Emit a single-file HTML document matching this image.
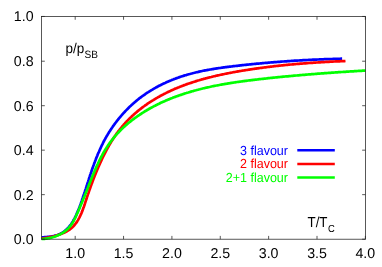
<!DOCTYPE html>
<html><head><meta charset="utf-8"><title>p/pSB</title>
<style>
html,body{margin:0;padding:0;background:#fff;}
svg{display:block;will-change:transform;}
text{text-rendering:geometricPrecision;font-family:"Liberation Sans",Arial,Helvetica,sans-serif;font-size:12.7px;fill:#000;}
.tk text{font-size:14.2px;}
</style></head><body>
<svg width="382" height="267" viewBox="0 0 382 267">

<g fill="none" stroke-width="2.7" stroke-linejoin="round">
<path stroke="#0000ff" d="M41.6,237.4 L42.6,237.3 L43.6,237.3 L44.6,237.2 L45.6,237.1 L46.6,237.0 L47.6,236.9 L48.6,236.8 L49.6,236.7 L50.6,236.5 L51.5,236.4 L52.5,236.2 L53.4,236.0 L54.4,235.8 L55.3,235.5 L56.2,235.3 L57.2,235.0 L58.1,234.7 L58.9,234.3 L59.8,234.0 L60.7,233.6 L61.5,233.1 L62.3,232.7 L63.2,232.1 L64.0,231.6 L64.7,231.0 L65.5,230.4 L66.2,229.7 L66.9,229.1 L67.6,228.3 L68.3,227.6 L69.0,226.9 L69.6,226.1 L70.2,225.3 L70.8,224.6 L71.4,223.8 L71.9,223.0 L72.4,222.2 L72.9,221.4 L73.4,220.5 L73.8,219.7 L74.3,218.9 L74.7,218.1 L75.1,217.2 L75.6,216.4 L76.0,215.5 L76.4,214.6 L76.7,213.8 L77.1,212.9 L77.5,212.0 L77.9,211.1 L78.2,210.3 L78.6,209.4 L79.0,208.5 L79.3,207.6 L79.7,206.7 L80.0,205.8 L80.3,204.9 L80.7,203.9 L81.0,203.0 L81.3,202.1 L81.7,201.2 L82.0,200.3 L82.3,199.3 L82.6,198.4 L82.9,197.5 L83.2,196.5 L83.5,195.6 L83.8,194.7 L84.2,193.7 L84.5,192.8 L84.8,191.9 L85.1,190.9 L85.4,190.0 L85.7,189.1 L86.0,188.1 L86.3,187.2 L86.6,186.2 L86.9,185.3 L87.2,184.4 L87.5,183.4 L87.8,182.5 L88.1,181.6 L88.4,180.6 L88.7,179.7 L89.0,178.7 L89.3,177.8 L89.6,176.9 L89.9,175.9 L90.2,175.0 L90.5,174.1 L90.8,173.1 L91.2,172.2 L91.5,171.3 L91.8,170.3 L92.1,169.4 L92.4,168.5 L92.8,167.6 L93.1,166.6 L93.4,165.7 L93.8,164.8 L94.1,163.9 L94.4,163.0 L94.8,162.0 L95.1,161.1 L95.5,160.2 L95.8,159.3 L96.2,158.4 L96.5,157.5 L96.9,156.6 L97.3,155.7 L97.6,154.8 L98.0,153.8 L98.4,152.9 L98.8,152.1 L99.2,151.2 L99.6,150.3 L100.0,149.4 L100.4,148.5 L100.8,147.6 L101.2,146.7 L101.6,145.8 L102.0,145.0 L102.5,144.1 L102.9,143.2 L103.3,142.3 L103.8,141.5 L104.2,140.6 L104.7,139.7 L105.2,138.9 L105.6,138.0 L106.1,137.2 L106.6,136.3 L107.1,135.5 L107.6,134.7 L108.1,133.8 L108.6,133.0 L109.1,132.1 L109.7,131.3 L110.2,130.5 L110.7,129.7 L111.3,128.9 L111.8,128.1 L112.4,127.2 L112.9,126.4 L113.5,125.6 L114.1,124.8 L114.6,124.1 L115.2,123.3 L115.8,122.5 L116.4,121.7 L117.0,120.9 L117.6,120.2 L118.2,119.4 L118.8,118.6 L119.4,117.9 L120.1,117.1 L120.7,116.4 L121.3,115.6 L122.0,114.9 L122.6,114.2 L123.3,113.4 L123.9,112.7 L124.6,112.0 L125.2,111.3 L125.9,110.6 L126.6,109.9 L127.3,109.2 L128.0,108.5 L128.7,107.8 L129.3,107.1 L130.0,106.5 L130.8,105.8 L131.5,105.1 L132.2,104.5 L132.9,103.8 L133.6,103.2 L134.4,102.5 L135.1,101.9 L135.8,101.3 L136.6,100.7 L137.3,100.1 L138.1,99.4 L138.8,98.8 L139.6,98.2 L140.4,97.7 L141.1,97.1 L141.9,96.5 L142.7,95.9 L143.5,95.4 L144.3,94.8 L145.0,94.3 L145.8,93.7 L146.6,93.2 L147.4,92.6 L148.3,92.1 L149.1,91.6 L149.9,91.1 L150.7,90.6 L151.5,90.1 L152.4,89.6 L153.2,89.1 L154.0,88.6 L154.9,88.1 L155.7,87.7 L156.5,87.2 L157.4,86.7 L158.2,86.3 L159.1,85.8 L159.9,85.4 L160.8,85.0 L161.7,84.5 L162.5,84.1 L163.4,83.7 L164.3,83.3 L165.2,82.9 L166.0,82.5 L166.9,82.1 L167.8,81.7 L168.7,81.3 L169.6,80.9 L170.5,80.5 L171.4,80.2 L172.3,79.8 L173.2,79.5 L174.1,79.1 L175.0,78.8 L175.9,78.4 L176.8,78.1 L177.7,77.8 L178.7,77.4 L179.6,77.1 L180.5,76.8 L181.4,76.5 L182.3,76.2 L183.3,75.9 L184.2,75.6 L185.1,75.3 L186.1,75.1 L187.0,74.8 L187.9,74.5 L188.9,74.2 L189.8,74.0 L190.8,73.7 L191.7,73.5 L192.7,73.2 L193.6,73.0 L194.6,72.8 L195.5,72.5 L196.5,72.3 L197.4,72.1 L198.4,71.9 L199.3,71.6 L200.3,71.4 L201.3,71.2 L202.2,71.0 L203.2,70.8 L204.1,70.6 L205.1,70.4 L206.1,70.3 L207.0,70.1 L208.0,69.9 L209.0,69.7 L209.9,69.5 L210.9,69.4 L211.9,69.2 L212.9,69.1 L213.8,68.9 L214.8,68.7 L215.8,68.6 L216.8,68.4 L217.7,68.3 L218.7,68.1 L219.7,68.0 L220.7,67.9 L221.6,67.7 L222.6,67.6 L223.6,67.4 L224.6,67.3 L225.5,67.2 L226.5,67.1 L227.5,66.9 L228.5,66.8 L229.5,66.7 L230.4,66.6 L231.4,66.5 L232.4,66.3 L233.4,66.2 L234.3,66.1 L235.3,66.0 L236.3,65.9 L237.3,65.8 L238.3,65.7 L239.2,65.6 L240.2,65.4 L241.2,65.3 L242.2,65.2 L243.1,65.1 L244.1,65.0 L245.1,64.9 L246.0,64.8 L247.0,64.7 L248.0,64.6 L249.0,64.5 L249.9,64.4 L250.9,64.3 L251.9,64.2 L252.8,64.1 L253.8,64.0 L254.8,63.9 L255.7,63.8 L256.7,63.7 L257.7,63.7 L258.6,63.6 L259.6,63.5 L260.6,63.4 L261.5,63.3 L262.5,63.2 L263.5,63.1 L264.4,63.0 L265.4,62.9 L266.4,62.9 L267.3,62.8 L268.3,62.7 L269.3,62.6 L270.2,62.5 L271.2,62.4 L272.1,62.4 L273.1,62.3 L274.1,62.2 L275.0,62.1 L276.0,62.1 L277.0,62.0 L277.9,61.9 L278.9,61.8 L279.9,61.8 L280.8,61.7 L281.8,61.6 L282.7,61.5 L283.7,61.5 L284.7,61.4 L285.6,61.3 L286.6,61.3 L287.6,61.2 L288.5,61.1 L289.5,61.1 L290.5,61.0 L291.4,60.9 L292.4,60.9 L293.3,60.8 L294.3,60.7 L295.3,60.7 L296.2,60.6 L297.2,60.6 L298.2,60.5 L299.1,60.5 L300.1,60.4 L301.1,60.3 L302.0,60.3 L303.0,60.2 L304.0,60.2 L304.9,60.1 L305.9,60.1 L306.9,60.0 L307.8,60.0 L308.8,59.9 L309.8,59.9 L310.8,59.8 L311.7,59.8 L312.7,59.7 L313.7,59.7 L314.6,59.6 L315.6,59.6 L316.6,59.6 L317.6,59.5 L318.5,59.5 L319.5,59.4 L320.5,59.4 L321.5,59.3 L322.4,59.3 L323.4,59.3 L324.4,59.2 L325.4,59.2 L326.4,59.2 L327.3,59.1 L328.3,59.1 L329.3,59.1 L330.3,59.0 L331.3,59.0 L332.2,59.0 L333.2,58.9 L334.2,58.9 L335.2,58.9 L336.2,58.9 L337.2,58.8 L338.2,58.8 L339.1,58.8 L340.1,58.8 L341.1,58.7 L342.1,58.7"/>
<path stroke="#ff0000" d="M41.6,238.5 L42.5,238.4 L43.4,238.3 L44.3,238.1 L45.3,238.0 L46.2,237.8 L47.1,237.7 L48.1,237.5 L49.0,237.3 L50.0,237.1 L50.9,236.9 L51.9,236.7 L52.9,236.5 L53.8,236.2 L54.8,236.0 L55.7,235.7 L56.7,235.4 L57.6,235.2 L58.6,234.8 L59.5,234.5 L60.4,234.2 L61.4,233.8 L62.3,233.5 L63.2,233.1 L64.1,232.7 L65.0,232.3 L65.8,231.8 L66.7,231.4 L67.5,230.9 L68.4,230.4 L69.2,229.9 L69.9,229.3 L70.7,228.7 L71.4,228.1 L72.2,227.5 L72.8,226.9 L73.5,226.2 L74.1,225.5 L74.8,224.7 L75.3,224.0 L75.9,223.2 L76.5,222.5 L77.0,221.7 L77.5,220.9 L78.0,220.1 L78.5,219.2 L78.9,218.4 L79.4,217.6 L79.8,216.7 L80.2,215.9 L80.6,215.0 L81.0,214.1 L81.4,213.3 L81.8,212.4 L82.1,211.5 L82.5,210.6 L82.8,209.7 L83.1,208.8 L83.4,207.9 L83.8,207.0 L84.1,206.1 L84.4,205.2 L84.7,204.3 L85.0,203.4 L85.3,202.4 L85.6,201.5 L85.9,200.6 L86.2,199.7 L86.5,198.8 L86.8,197.8 L87.1,196.9 L87.4,196.0 L87.7,195.1 L88.0,194.1 L88.4,193.2 L88.7,192.3 L89.0,191.4 L89.3,190.5 L89.6,189.5 L90.0,188.6 L90.3,187.7 L90.6,186.8 L90.9,185.9 L91.3,184.9 L91.6,184.0 L92.0,183.1 L92.3,182.2 L92.6,181.3 L93.0,180.4 L93.3,179.4 L93.7,178.5 L94.0,177.6 L94.4,176.7 L94.7,175.8 L95.1,174.9 L95.5,174.0 L95.8,173.1 L96.2,172.2 L96.6,171.3 L97.0,170.4 L97.3,169.5 L97.7,168.6 L98.1,167.7 L98.5,166.8 L98.9,165.9 L99.3,165.0 L99.7,164.1 L100.1,163.2 L100.5,162.4 L100.9,161.5 L101.3,160.6 L101.7,159.7 L102.1,158.8 L102.5,158.0 L102.9,157.1 L103.4,156.2 L103.8,155.4 L104.2,154.5 L104.7,153.6 L105.1,152.8 L105.6,151.9 L106.0,151.1 L106.5,150.2 L106.9,149.4 L107.4,148.5 L107.8,147.7 L108.3,146.9 L108.8,146.0 L109.2,145.2 L109.7,144.4 L110.2,143.5 L110.7,142.7 L111.2,141.9 L111.7,141.1 L112.2,140.3 L112.7,139.5 L113.2,138.7 L113.7,137.9 L114.3,137.1 L114.8,136.3 L115.3,135.5 L115.9,134.7 L116.4,133.9 L117.0,133.1 L117.6,132.4 L118.1,131.6 L118.7,130.8 L119.3,130.1 L119.9,129.3 L120.5,128.6 L121.1,127.8 L121.7,127.1 L122.3,126.3 L122.9,125.6 L123.6,124.9 L124.2,124.1 L124.9,123.4 L125.5,122.7 L126.2,122.0 L126.8,121.3 L127.5,120.6 L128.2,119.9 L128.9,119.2 L129.6,118.5 L130.3,117.8 L131.0,117.2 L131.7,116.5 L132.4,115.8 L133.1,115.2 L133.8,114.5 L134.6,113.9 L135.3,113.2 L136.0,112.6 L136.8,112.0 L137.5,111.3 L138.3,110.7 L139.0,110.1 L139.8,109.5 L140.6,108.9 L141.3,108.3 L142.1,107.7 L142.9,107.1 L143.7,106.5 L144.4,106.0 L145.2,105.4 L146.0,104.8 L146.8,104.3 L147.6,103.7 L148.4,103.2 L149.2,102.7 L150.0,102.1 L150.8,101.6 L151.6,101.1 L152.4,100.6 L153.3,100.1 L154.1,99.6 L154.9,99.1 L155.7,98.6 L156.5,98.1 L157.4,97.6 L158.2,97.1 L159.0,96.7 L159.9,96.2 L160.7,95.7 L161.6,95.3 L162.4,94.8 L163.3,94.4 L164.1,93.9 L165.0,93.5 L165.8,93.1 L166.7,92.6 L167.6,92.2 L168.4,91.8 L169.3,91.4 L170.2,91.0 L171.0,90.6 L171.9,90.2 L172.8,89.8 L173.7,89.4 L174.5,89.0 L175.4,88.6 L176.3,88.3 L177.2,87.9 L178.1,87.5 L179.0,87.2 L179.9,86.8 L180.8,86.5 L181.7,86.1 L182.6,85.8 L183.5,85.4 L184.4,85.1 L185.3,84.8 L186.2,84.4 L187.1,84.1 L188.0,83.8 L188.9,83.5 L189.8,83.2 L190.8,82.9 L191.7,82.6 L192.6,82.3 L193.5,82.0 L194.4,81.7 L195.4,81.4 L196.3,81.1 L197.2,80.8 L198.1,80.5 L199.1,80.3 L200.0,80.0 L200.9,79.7 L201.9,79.4 L202.8,79.2 L203.7,78.9 L204.7,78.7 L205.6,78.4 L206.5,78.2 L207.5,77.9 L208.4,77.7 L209.4,77.4 L210.3,77.2 L211.3,77.0 L212.2,76.7 L213.1,76.5 L214.1,76.3 L215.0,76.1 L216.0,75.8 L216.9,75.6 L217.9,75.4 L218.8,75.2 L219.8,75.0 L220.7,74.8 L221.7,74.6 L222.6,74.4 L223.6,74.2 L224.5,74.0 L225.5,73.8 L226.5,73.6 L227.4,73.4 L228.4,73.2 L229.3,73.0 L230.3,72.8 L231.2,72.7 L232.2,72.5 L233.1,72.3 L234.1,72.1 L235.1,72.0 L236.0,71.8 L237.0,71.6 L237.9,71.4 L238.9,71.3 L239.8,71.1 L240.8,71.0 L241.8,70.8 L242.7,70.6 L243.7,70.5 L244.6,70.3 L245.6,70.2 L246.5,70.0 L247.5,69.9 L248.5,69.7 L249.4,69.6 L250.4,69.4 L251.3,69.3 L252.3,69.1 L253.2,69.0 L254.2,68.8 L255.1,68.7 L256.1,68.6 L257.1,68.4 L258.0,68.3 L259.0,68.2 L259.9,68.0 L260.9,67.9 L261.8,67.8 L262.8,67.7 L263.7,67.5 L264.7,67.4 L265.7,67.3 L266.6,67.2 L267.6,67.0 L268.5,66.9 L269.5,66.8 L270.4,66.7 L271.4,66.6 L272.3,66.5 L273.3,66.3 L274.3,66.2 L275.2,66.1 L276.2,66.0 L277.1,65.9 L278.1,65.8 L279.0,65.7 L280.0,65.6 L280.9,65.5 L281.9,65.4 L282.9,65.3 L283.8,65.2 L284.8,65.1 L285.7,65.0 L286.7,64.9 L287.6,64.8 L288.6,64.7 L289.6,64.6 L290.5,64.5 L291.5,64.5 L292.4,64.4 L293.4,64.3 L294.3,64.2 L295.3,64.1 L296.3,64.0 L297.2,63.9 L298.2,63.9 L299.1,63.8 L300.1,63.7 L301.1,63.6 L302.0,63.6 L303.0,63.5 L303.9,63.4 L304.9,63.3 L305.9,63.3 L306.8,63.2 L307.8,63.1 L308.7,63.0 L309.7,63.0 L310.7,62.9 L311.6,62.8 L312.6,62.8 L313.5,62.7 L314.5,62.6 L315.5,62.6 L316.4,62.5 L317.4,62.5 L318.4,62.4 L319.3,62.3 L320.3,62.3 L321.3,62.2 L322.2,62.2 L323.2,62.1 L324.2,62.1 L325.1,62.0 L326.1,61.9 L327.1,61.9 L328.0,61.8 L329.0,61.8 L330.0,61.7 L330.9,61.7 L331.9,61.6 L332.9,61.6 L333.8,61.5 L334.8,61.5 L335.8,61.4 L336.7,61.4 L337.7,61.4 L338.7,61.3 L339.7,61.3 L340.6,61.2 L341.6,61.2 L342.6,61.1 L343.6,61.1 L344.5,61.1 L345.5,61.0"/>
<path stroke="#00ff00" d="M41.6,239.0 L42.6,239.0 L43.6,238.9 L44.6,238.8 L45.6,238.7 L46.6,238.6 L47.6,238.4 L48.6,238.2 L49.6,238.1 L50.6,237.8 L51.6,237.6 L52.5,237.3 L53.5,237.0 L54.5,236.7 L55.4,236.4 L56.3,236.0 L57.3,235.6 L58.2,235.2 L59.1,234.8 L60.0,234.4 L60.9,233.9 L61.7,233.4 L62.6,232.9 L63.4,232.3 L64.2,231.8 L65.0,231.2 L65.8,230.6 L66.5,229.9 L67.3,229.3 L68.0,228.6 L68.7,227.9 L69.3,227.2 L70.0,226.4 L70.6,225.6 L71.2,224.8 L71.7,224.0 L72.3,223.2 L72.8,222.3 L73.3,221.5 L73.8,220.6 L74.3,219.7 L74.7,218.8 L75.2,217.9 L75.6,217.0 L76.0,216.0 L76.4,215.1 L76.8,214.2 L77.3,213.3 L77.7,212.4 L78.1,211.4 L78.5,210.5 L78.9,209.6 L79.3,208.7 L79.7,207.8 L80.0,206.9 L80.4,206.0 L80.8,205.1 L81.2,204.1 L81.6,203.2 L82.0,202.3 L82.3,201.4 L82.7,200.5 L83.1,199.6 L83.4,198.7 L83.8,197.8 L84.2,196.9 L84.6,196.0 L84.9,195.0 L85.3,194.1 L85.7,193.2 L86.0,192.3 L86.4,191.4 L86.8,190.4 L87.1,189.5 L87.5,188.6 L87.9,187.7 L88.2,186.7 L88.6,185.8 L89.0,184.9 L89.3,183.9 L89.7,183.0 L90.1,182.1 L90.4,181.1 L90.8,180.2 L91.2,179.3 L91.6,178.3 L91.9,177.4 L92.3,176.4 L92.7,175.5 L93.1,174.6 L93.5,173.6 L93.9,172.7 L94.3,171.8 L94.7,170.8 L95.1,169.9 L95.5,169.0 L95.9,168.1 L96.3,167.1 L96.7,166.2 L97.1,165.3 L97.6,164.4 L98.0,163.5 L98.4,162.5 L98.9,161.6 L99.3,160.7 L99.7,159.8 L100.2,158.9 L100.7,158.0 L101.1,157.1 L101.6,156.2 L102.1,155.4 L102.5,154.5 L103.0,153.6 L103.5,152.7 L104.0,151.8 L104.5,151.0 L105.0,150.1 L105.6,149.3 L106.1,148.4 L106.6,147.6 L107.2,146.7 L107.7,145.9 L108.3,145.1 L108.8,144.3 L109.4,143.4 L110.0,142.6 L110.6,141.8 L111.2,141.0 L111.8,140.2 L112.4,139.5 L113.0,138.7 L113.6,137.9 L114.3,137.1 L114.9,136.4 L115.5,135.6 L116.2,134.9 L116.9,134.1 L117.5,133.4 L118.2,132.7 L118.9,132.0 L119.6,131.2 L120.3,130.5 L121.0,129.8 L121.7,129.1 L122.4,128.4 L123.1,127.8 L123.9,127.1 L124.6,126.4 L125.4,125.7 L126.1,125.1 L126.9,124.4 L127.6,123.8 L128.4,123.1 L129.1,122.5 L129.9,121.9 L130.7,121.3 L131.5,120.6 L132.3,120.0 L133.1,119.4 L133.9,118.8 L134.7,118.2 L135.5,117.6 L136.3,117.1 L137.1,116.5 L137.9,115.9 L138.8,115.3 L139.6,114.8 L140.4,114.2 L141.3,113.7 L142.1,113.1 L142.9,112.6 L143.8,112.1 L144.6,111.5 L145.5,111.0 L146.4,110.5 L147.2,110.0 L148.1,109.5 L148.9,109.0 L149.8,108.5 L150.7,108.0 L151.6,107.6 L152.4,107.1 L153.3,106.6 L154.2,106.1 L155.1,105.7 L156.0,105.2 L156.9,104.8 L157.7,104.3 L158.6,103.9 L159.5,103.5 L160.4,103.0 L161.3,102.6 L162.2,102.2 L163.1,101.8 L164.0,101.4 L165.0,101.0 L165.9,100.6 L166.8,100.2 L167.7,99.8 L168.6,99.4 L169.5,99.1 L170.4,98.7 L171.4,98.3 L172.3,98.0 L173.2,97.6 L174.1,97.2 L175.1,96.9 L176.0,96.5 L176.9,96.2 L177.9,95.9 L178.8,95.5 L179.7,95.2 L180.7,94.9 L181.6,94.6 L182.6,94.3 L183.5,93.9 L184.5,93.6 L185.4,93.3 L186.4,93.0 L187.3,92.7 L188.3,92.5 L189.2,92.2 L190.2,91.9 L191.1,91.6 L192.1,91.3 L193.0,91.1 L194.0,90.8 L195.0,90.5 L195.9,90.3 L196.9,90.0 L197.9,89.8 L198.8,89.5 L199.8,89.3 L200.8,89.0 L201.7,88.8 L202.7,88.5 L203.7,88.3 L204.6,88.1 L205.6,87.8 L206.6,87.6 L207.6,87.4 L208.6,87.2 L209.5,87.0 L210.5,86.8 L211.5,86.5 L212.5,86.3 L213.5,86.1 L214.4,85.9 L215.4,85.7 L216.4,85.5 L217.4,85.4 L218.4,85.2 L219.4,85.0 L220.4,84.8 L221.3,84.6 L222.3,84.4 L223.3,84.3 L224.3,84.1 L225.3,83.9 L226.3,83.8 L227.3,83.6 L228.3,83.4 L229.3,83.3 L230.3,83.1 L231.3,82.9 L232.3,82.8 L233.3,82.6 L234.3,82.5 L235.2,82.3 L236.2,82.2 L237.2,82.0 L238.2,81.9 L239.2,81.8 L240.2,81.6 L241.2,81.5 L242.2,81.3 L243.2,81.2 L244.2,81.1 L245.2,80.9 L246.2,80.8 L247.2,80.7 L248.2,80.5 L249.2,80.4 L250.2,80.3 L251.2,80.2 L252.2,80.1 L253.2,79.9 L254.2,79.8 L255.2,79.7 L256.2,79.6 L257.2,79.5 L258.2,79.3 L259.2,79.2 L260.2,79.1 L261.2,79.0 L262.2,78.9 L263.2,78.8 L264.2,78.7 L265.2,78.6 L266.2,78.5 L267.2,78.3 L268.2,78.2 L269.2,78.1 L270.1,78.0 L271.1,77.9 L272.1,77.8 L273.1,77.7 L274.1,77.6 L275.1,77.5 L276.1,77.4 L277.1,77.3 L278.1,77.2 L279.1,77.1 L280.1,77.0 L281.1,76.9 L282.1,76.8 L283.0,76.7 L284.0,76.6 L285.0,76.5 L286.0,76.4 L287.0,76.4 L288.0,76.3 L289.0,76.2 L290.0,76.1 L291.0,76.0 L292.0,75.9 L292.9,75.8 L293.9,75.7 L294.9,75.6 L295.9,75.5 L296.9,75.5 L297.9,75.4 L298.9,75.3 L299.9,75.2 L300.9,75.1 L301.8,75.0 L302.8,74.9 L303.8,74.9 L304.8,74.8 L305.8,74.7 L306.8,74.6 L307.8,74.5 L308.8,74.4 L309.8,74.4 L310.8,74.3 L311.7,74.2 L312.7,74.1 L313.7,74.1 L314.7,74.0 L315.7,73.9 L316.7,73.8 L317.7,73.7 L318.7,73.7 L319.7,73.6 L320.7,73.5 L321.6,73.4 L322.6,73.4 L323.6,73.3 L324.6,73.2 L325.6,73.1 L326.6,73.1 L327.6,73.0 L328.6,72.9 L329.6,72.9 L330.6,72.8 L331.6,72.7 L332.6,72.6 L333.6,72.6 L334.6,72.5 L335.6,72.4 L336.6,72.4 L337.5,72.3 L338.5,72.2 L339.5,72.2 L340.5,72.1 L341.5,72.0 L342.5,72.0 L343.5,71.9 L344.5,71.8 L345.5,71.8 L346.5,71.7 L347.5,71.6 L348.5,71.6 L349.5,71.5 L350.5,71.4 L351.5,71.4 L352.5,71.3 L353.5,71.3 L354.5,71.2 L355.5,71.1 L356.5,71.1 L357.6,71.0 L358.6,70.9 L359.6,70.9 L360.6,70.8 L361.6,70.8 L362.6,70.7 L363.6,70.6 L364.6,70.6 L365.6,70.5"/>
</g>
<g fill="none" stroke-width="2.5">
<path stroke="#0000ff" d="M297.3,150.2 H334.8"/>
<path stroke="#ff0000" d="M297.3,163.9 H334.8"/>
<path stroke="#00ff00" d="M297.3,177.6 H334.8"/>
</g>
<g fill="none" stroke="#222" stroke-width="0.75">
<rect x="41.5" y="16.45" width="323.95" height="222.75"/>
<path d="M75.20,239.2 v-3.3 M75.20,16.45 v3.3"/><path d="M123.56,239.2 v-3.3 M123.56,16.45 v3.3"/><path d="M171.92,239.2 v-3.3 M171.92,16.45 v3.3"/><path d="M220.28,239.2 v-3.3 M220.28,16.45 v3.3"/><path d="M268.64,239.2 v-3.3 M268.64,16.45 v3.3"/><path d="M317.00,239.2 v-3.3 M317.00,16.45 v3.3"/><path d="M365.36,239.2 v-3.3 M365.36,16.45 v3.3"/><path d="M41.5,239.20 h3.3 M365.45,239.20 h-3.3"/><path d="M41.5,194.65 h3.3 M365.45,194.65 h-3.3"/><path d="M41.5,150.17 h3.3 M365.45,150.17 h-3.3"/><path d="M41.5,105.69 h3.3 M365.45,105.69 h-3.3"/><path d="M41.5,61.21 h3.3 M365.45,61.21 h-3.3"/><path d="M41.5,16.45 h3.3 M365.45,16.45 h-3.3"/>
</g>
<g class="tk"><text x="75.20" y="258.2" text-anchor="middle">1.0</text><text x="123.56" y="258.2" text-anchor="middle">1.5</text><text x="171.92" y="258.2" text-anchor="middle">2.0</text><text x="220.28" y="258.2" text-anchor="middle">2.5</text><text x="268.64" y="258.2" text-anchor="middle">3.0</text><text x="317.00" y="258.2" text-anchor="middle">3.5</text><text x="365.36" y="258.2" text-anchor="middle">4.0</text><text x="33.6" y="244.13" text-anchor="end">0.0</text><text x="33.6" y="199.65" text-anchor="end">0.2</text><text x="33.6" y="155.17" text-anchor="end">0.4</text><text x="33.6" y="110.69" text-anchor="end">0.6</text><text x="33.6" y="66.21" text-anchor="end">0.8</text><text x="33.6" y="21.20" text-anchor="end">1.0</text></g>
<g transform="translate(288,154.7) scale(0.955,1)"><text x="0" y="0" text-anchor="end" style="fill:#0000ff;font-size:13.1px">3 flavour</text></g>
<g transform="translate(288,168.3) scale(0.955,1)"><text x="0" y="0" text-anchor="end" style="fill:#ff0000;font-size:13.1px">2 flavour</text></g>
<g transform="translate(288,181.9) scale(0.955,1)"><text x="0" y="0" text-anchor="end" style="fill:#00ff00;font-size:13.1px">2+1 flavour</text></g>
<g transform="translate(65.6,52.7) scale(0.95,1)"><text x="0" y="0" style="font-size:14.2px">p/p<tspan dy="5.2" dx="0.2" style="font-size:10.6px">SB</tspan></text></g>
<g transform="translate(307.5,226.8) scale(0.92,1)"><text x="0" y="0" style="font-size:14.5px">T/T<tspan dy="5.1" dx="0.5" style="font-size:10.2px">C</tspan></text></g>
</svg>
</body></html>
